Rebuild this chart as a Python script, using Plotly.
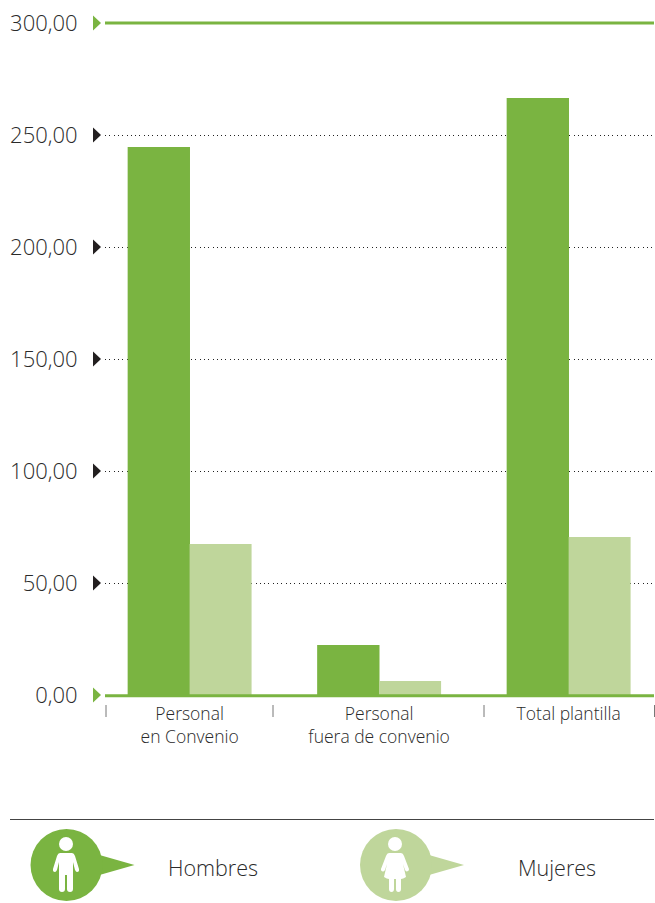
import plotly.graph_objects as go

categories = ["Personal<br>en Convenio", "Personal<br>fuera de convenio", "Total plantilla"]
hombres = [244.6, 22.3, 266.5]
mujeres = [67.4, 6.2, 70.5]
y_ticks = [0, 50, 100, 150, 200, 250, 300]
y_labels = ["0,00", "50,00", "100,00", "150,00", "200,00", "250,00", "300,00"]
legend_names = ["Hombres", "Mujeres"]

GREEN = "#7ab441"
LIGHT = "#bfd69b"
TEXT = "#2a2a2a"
FONT = "Open Sans"
WEIGHT = 300
W, H = 655, 903
L, R, T, B = 105, 654, 23, 695
YMAX = 300


def X(px):
    return (px - L) / (R - L)


def Y(py):
    return (B - py) / (B - T)


def path(points):
    """points: list of (cmd, x, y, ...) in page pixels -> paper-coordinates SVG path."""
    out = []
    for p in points:
        cmd, vals = p[0], p[1:]
        coords = []
        for i in range(0, len(vals), 2):
            coords.append(f"{X(vals[i]):.5f},{Y(vals[i + 1]):.5f}")
        out.append(cmd + " ".join(coords))
    return " ".join(out) + " Z"


def paper_shape(d, color):
    return dict(type="path", xref="paper", yref="paper", path=d,
                fillcolor=color, line=dict(width=0), layer="above")


def circle(cx, cy, r, color):
    return dict(type="circle", xref="paper", yref="paper", x0=X(cx - r), x1=X(cx + r),
                y0=Y(cy + r), y1=Y(cy - r), fillcolor=color, line=dict(width=0), layer="above")


def man(c):
    return path([("M", c - 6, 853), ("L", c + 6, 853), ("Q", c + 8, 853, c + 9, 856),
                 ("L", c + 13, 869), ("Q", c + 13.5, 872, c + 11, 872), ("Q", c + 10, 872, c + 9, 870),
                 ("L", c + 7, 862), ("L", c + 7, 889), ("Q", c + 7, 892, c + 4, 892), ("Q", c + 1, 892, c + 1, 889),
                 ("L", c + 1, 875), ("L", c - 1, 875), ("L", c - 1, 889), ("Q", c - 1, 892, c - 4, 892),
                 ("Q", c - 7, 892, c - 7, 889), ("L", c - 7, 862), ("L", c - 9, 870), ("Q", c - 10, 872, c - 11, 872),
                 ("Q", c - 13.5, 872, c - 13, 869), ("L", c - 9, 856), ("Q", c - 8, 853, c - 6, 853)])


def woman(c):
    return path([("M", c - 6, 853), ("L", c + 6, 853), ("Q", c + 8, 853, c + 9, 856),
                 ("L", c + 14, 869), ("Q", c + 14.5, 871, c + 12, 871.5), ("Q", c + 11, 871.5, c + 10, 870),
                 ("L", c + 8, 864), ("L", c + 11, 877), ("Q", c + 8, 879, c + 6, 879), ("L", c + 6, 889),
                 ("Q", c + 6, 892, c + 3.5, 892), ("Q", c + 1, 892, c + 1, 889), ("L", c + 1, 879), ("L", c - 1, 879),
                 ("L", c - 1, 889), ("Q", c - 1, 892, c - 3.5, 892), ("Q", c - 6, 892, c - 6, 889), ("L", c - 6, 879),
                 ("Q", c - 8, 879, c - 11, 877), ("L", c - 8, 864), ("L", c - 10, 870), ("Q", c - 11, 871.5, c - 12, 871.5),
                 ("Q", c - 14.5, 871, c - 14, 869), ("L", c - 9, 856), ("Q", c - 8, 853, c - 6, 853)])


def bubble(cx, color):
    return [
        paper_shape(path([("M", cx + 33, 855), ("L", cx + 68, 865), ("L", cx + 33, 875)]), color),
        circle(cx, 865, 36, color),
    ]


shapes = []
# Triangles beside each y tick (paper-referenced so the end ones are not clipped)
for v in y_ticks:
    color = GREEN if v in (0, YMAX) else "#231f20"
    shapes.append(dict(type="path", xref="paper", yref="paper", xsizemode="pixel", ysizemode="pixel",
                       xanchor=X(93), yanchor=v / YMAX, path="M0,-7.5 L8,0 L0,7.5 Z",
                       fillcolor=color, line=dict(width=0)))
# Green lines at top and bottom of the scale
for v, offset in ((0, -0.8), (YMAX, 0)):
    yy = v / YMAX + offset / (B - T)
    shapes.append(dict(type="line", xref="paper", yref="paper", x0=0, x1=1, y0=yy, y1=yy,
                       line=dict(color=GREEN, width=3), layer="above"))
# Category separators
for px in (106, 273, 484, 654.5):
    shapes.append(dict(type="line", xref="paper", yref="paper", x0=X(px), x1=X(px), y0=Y(705), y1=Y(717),
                       line=dict(color="#777777", width=1)))
# Legend rule
shapes.append(dict(type="line", xref="paper", yref="paper", x0=X(10), x1=X(654), y0=Y(819.5), y1=Y(819.5),
                   line=dict(color="#444444", width=1)))
# Legend badges
shapes += bubble(66.5, GREEN)
shapes += [circle(66, 844, 7, "white"), paper_shape(man(66), "white")]
shapes += bubble(396, LIGHT)
shapes += [circle(395, 844, 7, "white"), paper_shape(woman(395), "white")]

annotations = [
    dict(xref="paper", yref="paper", x=X(px), y=Y(867), text=name, showarrow=False,
         xanchor="left", yanchor="middle", font=dict(family=FONT, size=21.5, color=TEXT, weight=WEIGHT))
    for name, px in zip(legend_names, (166, 516))
]

fig = go.Figure()
fig.add_bar(x=[0, 1, 2], y=hombres, name=legend_names[0], marker=dict(color=GREEN, line=dict(width=0)), width=0.329, offset=-0.327)
fig.add_bar(x=[0, 1, 2], y=mujeres, name=legend_names[1], marker=dict(color=LIGHT, line=dict(width=0)), width=0.327, offset=0)

fig.update_layout(
    width=W, height=H, autosize=False, showlegend=False,
    margin=dict(l=L, r=W - R, t=T, b=H - B, pad=0),
    paper_bgcolor="white", plot_bgcolor="white",
    barmode="overlay", font=dict(family=FONT, color=TEXT),
    shapes=shapes, annotations=annotations,
    xaxis=dict(range=[-0.4465, 2.4505], tickmode="array", tickvals=[0, 1, 2], ticktext=categories,
               showgrid=False, zeroline=False, showline=False, ticks="outside", ticklen=3,
               tickcolor="rgba(0,0,0,0)", tickfont=dict(family=FONT, size=17.5, color=TEXT, weight=WEIGHT)),
    yaxis=dict(range=[0, YMAX], tickmode="array", tickvals=y_ticks, ticktext=y_labels,
               showgrid=True, gridcolor="#222222", gridwidth=1, griddash="1px,3.3px",
               zeroline=False, showline=False, ticks="outside", ticklen=22,
               tickcolor="rgba(0,0,0,0)", tickfont=dict(family=FONT, size=22, color=TEXT, weight=WEIGHT)),
)

fig.write_html("out.html", config=dict(displayModeBar=False), post_script="document.body.style.margin='0';")
